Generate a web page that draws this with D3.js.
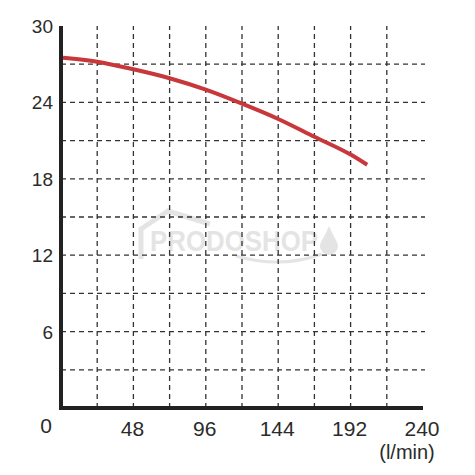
<!DOCTYPE html>
<html>
<head>
<meta charset="utf-8">
<script src="https://cdn.jsdelivr.net/npm/d3@7"></script>
<style>
  body { margin: 0; background: #fff; }
  text { font-family: "Liberation Sans", Arial, sans-serif; fill: #2b2b2b; }
</style>
</head>
<body>
<script>
// pump curve: flow (l/min) vs head (m)
const flow = [0, 24, 48, 72, 96, 120, 144, 168, 192, 203];
const head = [27.5, 27.2, 26.6, 25.9, 25.0, 23.9, 22.7, 21.3, 19.9, 19.1];
const xTicks = [48, 96, 144, 192, 240];
const yTicks = [6, 12, 18, 24, 30];
const xGrid = [24, 48, 72, 96, 120, 144, 168, 192, 216];
const yGrid = [3, 6, 9, 12, 15, 18, 21, 24, 27];

const W = 475, H = 475;
const svg = d3.select('body').append('svg').attr('width', W).attr('height', H);

const x = d3.scaleLinear().domain([0, 240]).range([61, 423]);
const y = d3.scaleLinear().domain([0, 30]).range([408, 26]);

// watermark
const wm = svg.append('g');
const wmc = '#e4e4e4';
wm.append('path')
  .attr('d', 'M141,259 L141,229 L168,211 L210,224')
  .attr('fill', 'none').attr('stroke', wmc).attr('stroke-width', 5);
wm.append('text').attr('x', 150).attr('y', 251)
  .attr('font-size', 29).attr('font-weight', 'bold')
  .style('fill', wmc).attr('textLength', 168).attr('lengthAdjust', 'spacingAndGlyphs')
  .text('PRODOSHOP');
wm.append('path')
  .attr('d', 'M236,256 C270,266 300,262 322,254')
  .attr('fill', 'none').attr('stroke', wmc).attr('stroke-width', 3);
wm.append('path')
  .attr('d', 'M329,226 C325,236 320,242 320,246 A9,9 0 0 0 338,246 C338,242 333,236 329,226 Z')
  .attr('fill', wmc);

// grid
svg.append('g').selectAll('line').data(yGrid).join('line')
  .attr('x1', x(0)).attr('x2', 425)
  .attr('y1', d => y(d)).attr('y2', d => y(d))
  .attr('stroke', '#333').attr('stroke-width', 1.3).attr('stroke-dasharray', '5,4');
svg.append('g').selectAll('line').data(xGrid).join('line')
  .attr('x1', d => x(d)).attr('x2', d => x(d))
  .attr('y1', y(0)).attr('y2', y(30))
  .attr('stroke', '#333').attr('stroke-width', 1.3).attr('stroke-dasharray', '5,4');

// axes lines
svg.append('line').attr('x1', x(0)).attr('x2', x(0)).attr('y1', y(30)).attr('y2', y(0) + 2)
  .attr('stroke', '#222').attr('stroke-width', 4);
svg.append('line').attr('x1', x(0) - 2).attr('x2', x(240)).attr('y1', y(0)).attr('y2', y(0))
  .attr('stroke', '#222').attr('stroke-width', 4);

// curve
const line = d3.line().x((d, i) => x(flow[i]) + (i === 0 ? 2 : 0)).y(d => y(d)).curve(d3.curveMonotoneX);
svg.append('path').datum(head).attr('d', line)
  .attr('fill', 'none').attr('stroke', '#c8373a').attr('stroke-width', 4);

// labels
svg.append('g').selectAll('text').data(yTicks).join('text')
  .attr('x', 53).attr('y', d => y(d) + 7)
  .attr('text-anchor', 'end').attr('font-size', 19)
  .text(d => d);
svg.append('text').attr('x', 52).attr('y', 433).attr('text-anchor', 'end')
  .attr('font-size', 21).text('0');
svg.append('g').selectAll('text').data(xTicks).join('text')
  .attr('x', d => x(d) - 1).attr('y', 436)
  .attr('text-anchor', 'middle').attr('font-size', 21)
  .text(d => d);
svg.append('text').attr('x', 407).attr('y', 459).attr('text-anchor', 'middle')
  .attr('font-size', 20).text('(l/min)');
</script>
</body>
</html>
